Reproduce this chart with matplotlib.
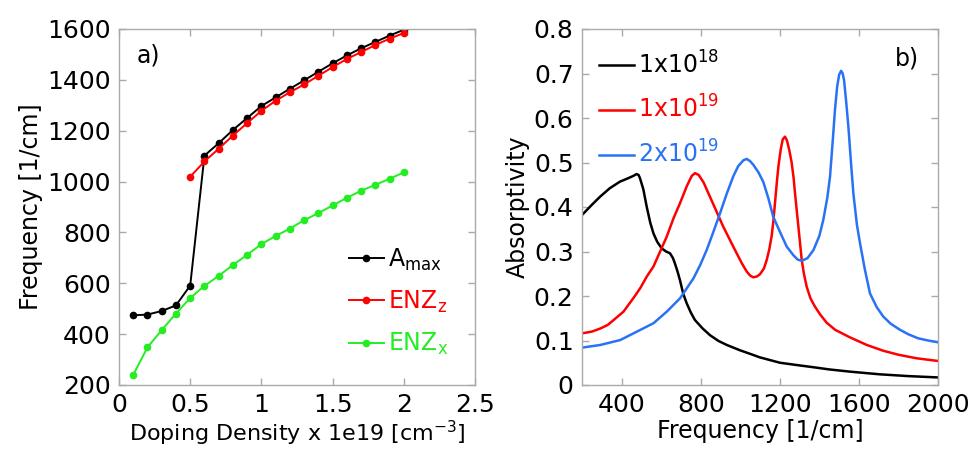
import matplotlib
matplotlib.use("Agg")
import matplotlib.pyplot as plt

# ---- Panel a) data ----
doping = [0.1, 0.2, 0.3, 0.4, 0.5, 0.6, 0.7, 0.8, 0.9, 1.0,
          1.1, 1.2, 1.3, 1.4, 1.5, 1.6, 1.7, 1.8, 1.9, 2.0]
a_max = [474, 477, 491, 513, 591, 1102, 1151, 1203, 1250, 1297,
         1331, 1365, 1398, 1432, 1465, 1496, 1524, 1549, 1574, 1597]
enz_z_doping = [0.5, 0.6, 0.7, 0.8, 0.9, 1.0, 1.1, 1.2, 1.3, 1.4,
                1.5, 1.6, 1.7, 1.8, 1.9, 2.0]
enz_z = [1019, 1079, 1129, 1181, 1230, 1278, 1318, 1351, 1382, 1416,
         1450, 1482, 1509, 1537, 1562, 1584]
enz_x = [240, 348, 416, 481, 542, 590, 629, 672, 712, 754,
         786, 815, 848, 876, 906, 936, 964, 987, 1011, 1036]

# ---- Panel b) data ----
f_1e18 = [200, 250, 291, 340, 392, 430, 460, 476, 486, 493, 510, 527, 545,
          561, 580, 603, 625, 645, 660, 670, 683, 695, 712, 729, 750, 771,
          810, 847, 890, 932, 999, 1050, 1100, 1201, 1300, 1369, 1450, 1555,
          1706, 1850, 2000]
a_1e18 = [0.382, 0.405, 0.423, 0.442, 0.457, 0.464, 0.470, 0.474, 0.472,
          0.465, 0.440, 0.401, 0.365, 0.341, 0.322, 0.307, 0.300, 0.296,
          0.285, 0.273, 0.255, 0.236, 0.205, 0.184, 0.163, 0.146, 0.127,
          0.112, 0.099, 0.090, 0.078, 0.070, 0.062, 0.050, 0.044, 0.040,
          0.035, 0.030, 0.024, 0.020, 0.017]
f_1e19 = [200, 250, 293, 330, 360, 410, 461, 495, 528, 561, 595, 628, 663,
          695, 730, 755, 771, 790, 815, 847, 880, 914, 949, 982, 1010, 1033,
          1050, 1066, 1085, 1100, 1120, 1134, 1147, 1159, 1168, 1176, 1185,
          1193, 1205, 1215, 1226, 1236, 1248, 1260, 1270, 1277, 1294, 1311,
          1322, 1336, 1355, 1378, 1405, 1437, 1480, 1555, 1640, 1723, 1800,
          1892, 2000]
a_1e19 = [0.116, 0.120, 0.127, 0.135, 0.146, 0.165, 0.196, 0.218, 0.244,
          0.266, 0.300, 0.333, 0.375, 0.408, 0.447, 0.470, 0.476, 0.472,
          0.455, 0.423, 0.390, 0.356, 0.325, 0.296, 0.272, 0.255, 0.246,
          0.242, 0.244, 0.249, 0.262, 0.281, 0.305, 0.335, 0.370, 0.410,
          0.455, 0.491, 0.530, 0.552, 0.558, 0.550, 0.528, 0.500, 0.465,
          0.431, 0.356, 0.281, 0.250, 0.221, 0.195, 0.176, 0.158, 0.140,
          0.124, 0.107, 0.090, 0.077, 0.068, 0.060, 0.054]
f_2e19 = [200, 293, 393, 478, 562, 629, 696, 764, 798, 831, 865, 898, 932,
          965, 990, 1016, 1033, 1050, 1066, 1092, 1117, 1142, 1167, 1200,
          1235, 1268, 1290, 1311, 1340, 1370, 1400, 1420, 1440, 1454, 1468,
          1479, 1490, 1500, 1510, 1518, 1525, 1535, 1547, 1560, 1572, 1590,
          1606, 1630, 1656, 1690, 1723, 1760, 1808, 1850, 1899, 1950, 2000]
a_2e19 = [0.084, 0.090, 0.101, 0.120, 0.139, 0.165, 0.195, 0.240, 0.270,
          0.304, 0.345, 0.386, 0.430, 0.469, 0.492, 0.505, 0.508, 0.503,
          0.495, 0.478, 0.456, 0.420, 0.378, 0.345, 0.311, 0.292, 0.282,
          0.279, 0.285, 0.303, 0.335, 0.371, 0.420, 0.468, 0.550, 0.618,
          0.670, 0.697, 0.706, 0.700, 0.685, 0.640, 0.580, 0.500, 0.431,
          0.360, 0.318, 0.260, 0.206, 0.175, 0.154, 0.138, 0.124, 0.114,
          0.105, 0.100, 0.096]

xticks_a = [0, 0.5, 1, 1.5, 2, 2.5]
xticklabels_a = ["0", "0.5", "1", "1.5", "2", "2.5"]
yticks_a = [200, 400, 600, 800, 1000, 1200, 1400, 1600]
xticks_b = [400, 800, 1200, 1600, 2000]
yticks_b = [0, 0.1, 0.2, 0.3, 0.4, 0.5, 0.6, 0.7, 0.8]
yticklabels_b = ["0", "0.1", "0.2", "0.3", "0.4", "0.5", "0.6", "0.7", "0.8"]

RED = "#ff0000"
GREEN = "#22ee22"
BLUE = "#2a72f5"
SPINE = "#aaaaaa"

plt.rcParams["font.family"] = ["DejaVu Sans"]
plt.rcParams["mathtext.fontset"] = "dejavusans"

fig = plt.figure(figsize=(9.69, 4.51), dpi=100)
ax1 = fig.add_axes([119 / 969, 66 / 451, 356 / 969, 356 / 451])
ax2 = fig.add_axes([582 / 969, 66 / 451, 356 / 969, 356 / 451])

for ax in (ax1, ax2):
    for s in ax.spines.values():
        s.set_color(SPINE)
        s.set_linewidth(1.0)
    ax.tick_params(direction="in", length=5, width=1, colors=SPINE,
                   labelcolor="black", labelsize=18, top=True, right=True, pad=6)

# Panel a
ax1.plot(doping, a_max, color="black", lw=1.4, marker="o", ms=4.5,
         label=r"A$_{\mathregular{max}}$")
ax1.plot(enz_z_doping, enz_z, color=RED, lw=1.4, marker="o", ms=4.5,
         label=r"ENZ$_{\mathregular{z}}$")
ax1.plot(doping, enz_x, color=GREEN, lw=1.4, marker="o", ms=4.5,
         label=r"ENZ$_{\mathregular{x}}$")
ax1.set_xlim(0, 2.5)
ax1.set_ylim(200, 1600)
ax1.set_xticks(xticks_a)
ax1.set_xticklabels(xticklabels_a)
ax1.set_yticks(yticks_a)
ax1.set_xlabel(r"Doping Density x 1e19 [cm$^{\mathregular{-3}}$]", fontsize=16, labelpad=1)
ax1.set_ylabel("Frequency [1/cm]", fontsize=17, labelpad=3)
ax1.text(0.05, 0.96, "a)", transform=ax1.transAxes, fontsize=17, va="top")
leg1 = ax1.legend(loc="lower right", bbox_to_anchor=(0.95, 0.052), frameon=False,
                  fontsize=17, handlelength=1.5, handletextpad=0.15,
                  labelspacing=0.68, labelcolor="linecolor", borderaxespad=0)

# Panel b
ax2.plot(f_1e18, a_1e18, color="black", lw=1.8, label=r"1x10$^{\mathregular{18}}$")
ax2.plot(f_1e19, a_1e19, color=RED, lw=1.8, label=r"1x10$^{\mathregular{19}}$")
ax2.plot(f_2e19, a_2e19, color=BLUE, lw=1.8, label=r"2x10$^{\mathregular{19}}$")
ax2.set_xlim(200, 2000)
ax2.set_ylim(0, 0.8)
ax2.set_xticks(xticks_b)
ax2.set_yticks(yticks_b)
ax2.set_yticklabels(yticklabels_b)
ax2.set_xlabel("Frequency [1/cm]", fontsize=17, labelpad=1)
ax2.set_ylabel("Absorptivity", fontsize=17, labelpad=3)
ax2.text(0.88, 0.952, "b)", transform=ax2.transAxes, fontsize=17, va="top")
leg2 = ax2.legend(loc="upper left", bbox_to_anchor=(0.02, 0.965), frameon=False,
                  fontsize=17, handlelength=1.5, handletextpad=0.15,
                  labelspacing=0.75, labelcolor="linecolor", borderaxespad=0)

fig.savefig("out.png", dpi=100)
